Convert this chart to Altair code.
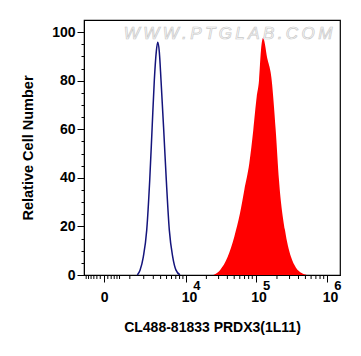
import altair as alt
import pandas as pd

# Isotype control (blue outline)
blue_x = [1484, 1689, 1964, 2280, 2589, 2848, 3125, 3380, 3574, 3800,
          4061, 4500, 4958, 5541, 6268, 7053, 8130]
blue_y = [0, 2, 7.5, 18.5, 39, 59.7, 80.2, 92, 95.8, 92,
          80.2, 59.7, 39, 18.5, 7.5, 2, 0]

# PRDX3 stained sample (red fill)
red_x = [25170, 31390, 40450, 50180, 60410, 69480, 81760, 93000, 103850,
         111830, 119350, 128500, 133600, 143450, 168640, 191890, 213440,
         258850, 313950, 369050, 443300, 520400]
red_y = [0, 2, 7.5, 15.8, 25.4, 35, 46, 59.7, 73.4,
         80, 92.6, 97.8, 96, 90.5, 80.2, 59.7, 39,
         18.5, 7.5, 3, 0.8, 0]

x_major = [0, 10000, 100000, 1000000]
x_exponent_at = [10000, 100000, 1000000]
x_exponent_text = ["4", "5", "6"]
x_minor = [-600, -500, -400, -300, -200, -100, 100, 200, 300, 400, 500, 1000,
           2000, 3000, 4000, 5000, 6000, 7000, 8000, 9000,
           20000, 30000, 40000, 50000, 60000, 70000, 80000, 90000,
           200000, 300000, 400000, 500000, 600000, 700000, 800000, 900000]
y_ticks = [0, 5, 10, 15, 20, 25, 30, 35, 40, 45, 50, 55, 60, 65, 70, 75, 80, 85, 90, 95, 100]

watermark_text = ["W\u2009W\u2009W\u2009.\u2009P\u2009T\u2009G\u2009L\u2009A\u2009B\u2009.\u2009C\u2009O\u2009M"]
watermark_x = [40850]
watermark_y = [99.4]

x_title = "CL488-81833 PRDX3(1L11)"
y_title = "Relative Cell Number"

FONT = "Liberation Sans"

xscale = alt.Scale(type="symlog", constant=775, domain=[-700, 1520000], nice=False, zero=False)
yscale = alt.Scale(domain=[0, 105], nice=False, zero=False)

xaxis = alt.Axis(
    values=x_major,
    labelExpr="abs(datum.value) < 1 ? '0' : '10'",
    labelOffset={"condition": {"test": "abs(datum.value) < 1", "value": 0}, "value": 3},
    tickSize=7,
    labelOverlap=False,
    labelFlush=False,
    labelPadding=8,
    title=x_title,
    titlePadding=16,
)
yaxis = alt.Axis(
    values=y_ticks,
    labelExpr="datum.value % 20 == 0 ? datum.label : ''",
    tickSize={"condition": {"test": "datum.value % 20 == 0", "value": 7}, "value": 3},
    labelOverlap=False,
    labelFlush=False,
    labelPadding=2,
    title=y_title,
    titlePadding=16,
    titleFontSize=14.5,
)

red_df = pd.DataFrame({"x": red_x, "y": red_y})
blue_df = pd.DataFrame({"x": blue_x, "y": blue_y})
wm_df = pd.DataFrame({"x": watermark_x, "y": watermark_y, "t": watermark_text})
minor_df = pd.DataFrame({"x": x_minor})
exp_df = pd.DataFrame({"x": x_exponent_at, "t": x_exponent_text})

X = alt.X("x:Q", scale=xscale, axis=xaxis)
Y = alt.Y("y:Q", scale=yscale, axis=yaxis)

red = alt.Chart(red_df).mark_area(color="#ff0000", opacity=1, interpolate="monotone").encode(x=X, y=Y)
blue = alt.Chart(blue_df).mark_line(color="#14147c", strokeWidth=1.5, interpolate="monotone").encode(x=X, y=Y)
minor = alt.Chart(minor_df).mark_rule(color="black", strokeWidth=1).encode(
    x=X, y=alt.value(255), y2=alt.value(259),
)
exps = alt.Chart(exp_df).mark_text(
    font=FONT, fontSize=13, fontWeight="bold", color="black", align="center",
    baseline="middle", dx=11,
).encode(x=X, y=alt.value(266), text="t:N")
wm = alt.Chart(wm_df).mark_text(
    font=FONT, fontSize=17, fontStyle="italic", fill="#ffffff",
    stroke="#c8c8c8", strokeWidth=0.7, align="center", baseline="middle",
).encode(x=X, y=Y, text="t:N")

chart = alt.layer(red, blue, wm, minor, exps).properties(
    width=256, height=255,
    autosize=alt.AutoSizeParams(type="none"),
    padding={"left": 76, "top": 12, "right": 13, "bottom": 65},
).configure_view(
    stroke="black", strokeWidth=1.2, clip=False
).configure_axis(
    grid=False,
    domainColor="black",
    tickColor="black",
    tickWidth=1,
    labelFont=FONT, labelFontSize=14, labelFontWeight="bold", labelColor="black",
    titleFont=FONT, titleFontSize=14, titleFontWeight="bold", titleColor="black",
)

chart.save("out.html", embed_options={"renderer": "svg", "actions": False})
